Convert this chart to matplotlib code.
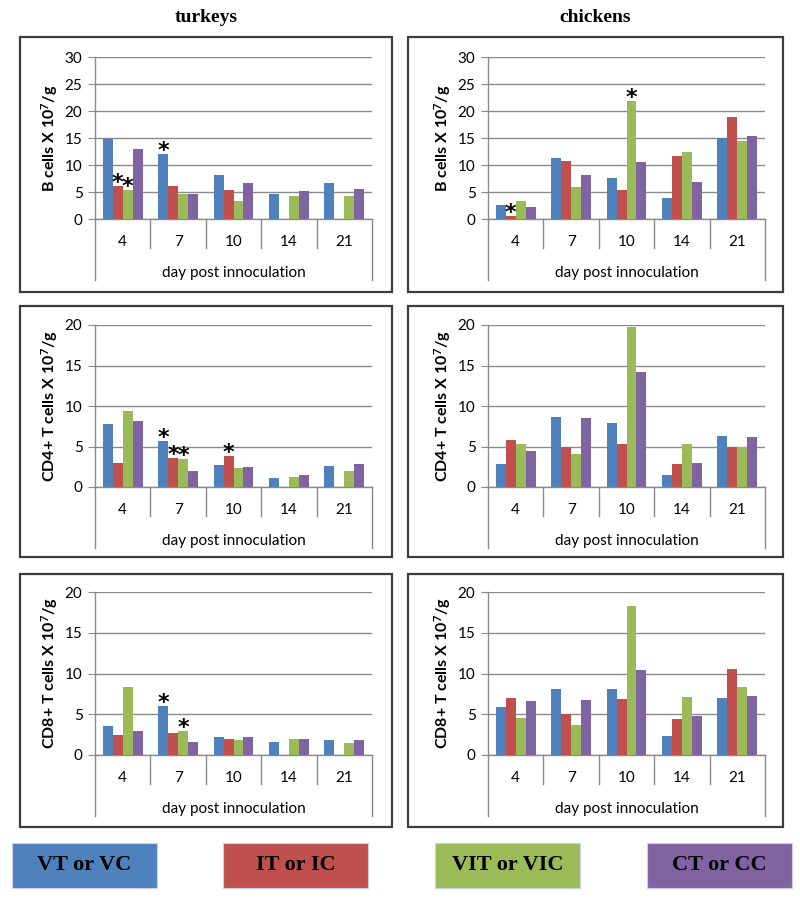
import numpy as np
import matplotlib
matplotlib.use('Agg')
import matplotlib.pyplot as plt
from matplotlib.patches import Rectangle

# ---------------- data ----------------
categories = ['4', '7', '10', '14', '21']
series_names = ['VT or VC', 'IT or IC', 'VIT or VIC', 'CT or CC']
colors = ['#4F81BD', '#C0504D', '#9BBB59', '#8064A2']
nan = np.nan

b_turkey_vt = [14.8, 12.1, 8.2, 4.6, 6.6]
b_turkey_it = [6.1, 6.2, 5.4, nan, nan]
b_turkey_vit = [5.4, 4.7, 3.3, 4.3, 4.2]
b_turkey_ct = [12.9, 4.6, 6.6, 5.2, 5.5]

b_chicken_vt = [2.6, 11.3, 7.6, 3.9, 15.0]
b_chicken_it = [0.5, 10.7, 5.3, 11.6, 18.8]
b_chicken_vit = [3.4, 6.0, 21.9, 12.4, 14.4]
b_chicken_ct = [2.3, 8.2, 10.5, 6.9, 15.3]

cd4_turkey_vt = [7.8, 5.7, 2.7, 1.1, 2.6]
cd4_turkey_it = [3.0, 3.6, 3.8, nan, nan]
cd4_turkey_vit = [9.4, 3.4, 2.4, 1.2, 2.0]
cd4_turkey_ct = [8.2, 2.0, 2.5, 1.5, 2.8]

cd4_chicken_vt = [2.8, 8.7, 7.9, 1.5, 6.3]
cd4_chicken_it = [5.8, 5.0, 5.3, 2.8, 5.0]
cd4_chicken_vit = [5.3, 4.1, 19.8, 5.3, 5.0]
cd4_chicken_ct = [4.5, 8.5, 14.2, 3.0, 6.2]

cd8_turkey_vt = [3.6, 6.0, 2.2, 1.6, 1.8]
cd8_turkey_it = [2.5, 2.7, 2.0, nan, nan]
cd8_turkey_vit = [8.4, 2.9, 1.8, 2.0, 1.5]
cd8_turkey_ct = [3.0, 1.6, 2.2, 2.0, 1.8]

cd8_chicken_vt = [5.9, 8.1, 8.1, 2.3, 7.0]
cd8_chicken_it = [7.0, 5.0, 6.9, 4.4, 10.5]
cd8_chicken_vit = [4.5, 3.7, 18.3, 7.1, 8.3]
cd8_chicken_ct = [6.6, 6.7, 10.4, 4.8, 7.3]

# significance asterisks: (category index, series index)
b_turkey_sig = [(0, 1), (0, 2), (1, 0)]
b_chicken_sig = [(0, 1), (2, 2)]
cd4_turkey_sig = [(1, 0), (1, 1), (1, 2), (2, 1)]
cd4_chicken_sig = []
cd8_turkey_sig = [(1, 0), (1, 2)]
cd8_chicken_sig = []

column_titles = ['turkeys', 'chickens']
x_title = 'day post innoculation'
b_label = 'B cells X 10$^{\\mathbf{7}}$/g'
cd4_label = 'CD4+ T cells X 10$^{\\mathbf{7}}$/g'
cd8_label = 'CD8+ T cells X 10$^{\\mathbf{7}}$/g'

# ---------------- style ----------------
plt.rcParams['font.family'] = ['Lato', 'DejaVu Sans']
plt.rcParams['mathtext.fontset'] = 'custom'
plt.rcParams['mathtext.rm'] = 'Lato'
plt.rcParams['mathtext.bf'] = 'Lato:bold'
plt.rcParams['mathtext.it'] = 'Lato:italic'

W, H = 800, 900
fig = plt.figure(figsize=(8, 9), dpi=100)


def fx(px):
    return px / W


def fy(py):
    return 1 - py / H


GRID = '#8a8a8a'

panels = [
    # (series, sig, ymax, ylabel, axes px (x0, ytop, x1, ybot), box px (x0, y0, x1, y1))
    ([b_turkey_vt, b_turkey_it, b_turkey_vit, b_turkey_ct], b_turkey_sig, 30, b_label,
     (95, 57, 372, 219), (20, 37, 392, 292)),
    ([b_chicken_vt, b_chicken_it, b_chicken_vit, b_chicken_ct], b_chicken_sig, 30, b_label,
     (488, 57, 765, 219), (408, 37, 783, 292)),
    ([cd4_turkey_vt, cd4_turkey_it, cd4_turkey_vit, cd4_turkey_ct], cd4_turkey_sig, 20, cd4_label,
     (95, 325, 372, 487), (20, 306, 392, 557)),
    ([cd4_chicken_vt, cd4_chicken_it, cd4_chicken_vit, cd4_chicken_ct], cd4_chicken_sig, 20, cd4_label,
     (488, 325, 765, 487), (408, 306, 783, 557)),
    ([cd8_turkey_vt, cd8_turkey_it, cd8_turkey_vit, cd8_turkey_ct], cd8_turkey_sig, 20, cd8_label,
     (95, 592, 372, 755), (20, 574, 392, 827)),
    ([cd8_chicken_vt, cd8_chicken_it, cd8_chicken_vit, cd8_chicken_ct], cd8_chicken_sig, 20, cd8_label,
     (488, 592, 765, 755), (408, 574, 783, 827)),
]

bw = 0.18
x = np.arange(len(categories))

for series, sig, ymax, ylabel, (x0, yt, x1, yb), (bx0, by0, bx1, by1) in panels:
    # frame
    fig.add_artist(Rectangle((fx(bx0), fy(by1)), (bx1 - bx0) / W, (by1 - by0) / H,
                             transform=fig.transFigure, fill=False,
                             edgecolor='#3c3c3c', lw=1.6))
    ph = yb - yt
    ax = fig.add_axes([fx(x0), fy(yb), (x1 - x0) / W, ph / H])
    ax.set_xlim(-0.5, len(categories) - 0.5)
    ax.set_ylim(0, ymax)
    for i, vals in enumerate(series):
        ax.bar(x + (i - 1.5) * bw, vals, bw, color=colors[i], edgecolor='none', zorder=3)
    ax.set_yticks(np.arange(0, ymax + 1, 5))
    ax.yaxis.grid(True, color=GRID, lw=1.0)
    ax.set_axisbelow(True)
    ax.set_xticks([])
    for s in ['top', 'right']:
        ax.spines[s].set_visible(False)
    for s in ['left', 'bottom']:
        ax.spines[s].set_color(GRID)
        ax.spines[s].set_linewidth(1.0)
    ax.tick_params(axis='y', length=5, color=GRID, labelsize=11, pad=4)
    ax.patch.set_alpha(0)

    tr = ax.get_xaxis_transform()
    for k in range(1, len(categories)):
        ax.plot([k - 0.5, k - 0.5], [0, -29 / ph], transform=tr, clip_on=False,
                color=GRID, lw=1.0)
    for k in [-0.5, len(categories) - 0.5]:
        ax.plot([k, k], [0, -61 / ph], transform=tr, clip_on=False, color=GRID, lw=1.0)
    for i, c in enumerate(categories):
        ax.text(i, -23 / ph, c, transform=tr, ha='center', va='center', fontsize=11)
    ax.text((len(categories) - 1) / 2, -54 / ph, x_title, transform=tr,
            ha='center', va='center', fontsize=11)

    fig.text(fx(x0 - 45), fy((yt + yb) / 2), ylabel, rotation=90, ha='center',
             va='center', fontsize=11.5, weight='bold')

    for ci, si in sig:
        v = series[si][ci]
        ax.annotate('*', (x[ci] + (si - 1.5) * bw, v), xytext=(0, 3),
                    textcoords='offset pixels', ha='center', va='center',
                    fontsize=16, weight='bold', family='DejaVu Sans', zorder=5)

# column titles
for t, cx in zip(column_titles, [206, 595]):
    fig.text(fx(cx), fy(18), t, ha='center', va='center', fontsize=14,
             weight='bold', family='Liberation Serif')

# legend boxes
leg_x = [12, 223, 435, 647]
for name, col, lx in zip(series_names, colors, leg_x):
    fig.add_artist(Rectangle((fx(lx), fy(888)), 145 / W, 45 / H, transform=fig.transFigure,
                             facecolor=col, edgecolor='#c8d4e6', lw=0.8))
    fig.text(fx(lx + 72.5), fy(865.5), name, ha='center', va='center', fontsize=16,
             weight='bold', family='Liberation Serif', color='black')

fig.savefig('out.png', dpi=100)
